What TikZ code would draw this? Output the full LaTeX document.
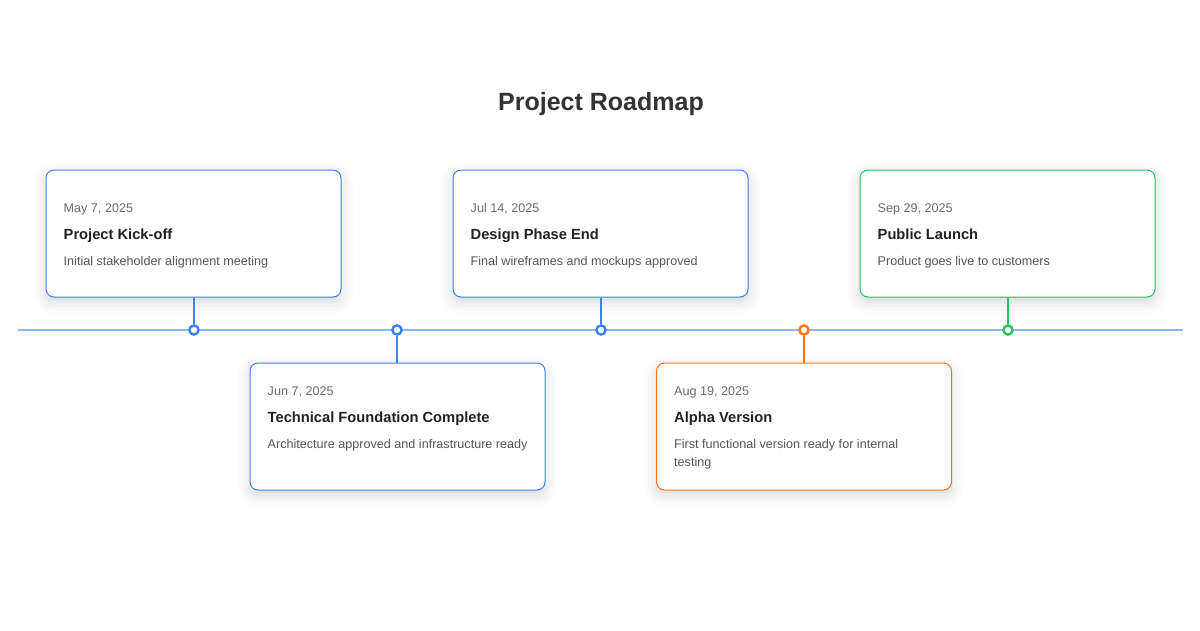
\documentclass[tikz,border=0pt]{standalone}
\usepackage{fontspec}
\setmainfont{Liberation Sans}
\usetikzlibrary{shadows.blur,calc}
\definecolor{cblue}{HTML}{3B82F6}
\definecolor{corange}{HTML}{F97316}
\definecolor{cgreen}{HTML}{22C55E}
\definecolor{cline}{HTML}{93B5F8}
\definecolor{cdate}{HTML}{6B6B6B}
\definecolor{ctitle}{HTML}{222222}
\definecolor{cdesc}{HTML}{555555}
\definecolor{chead}{HTML}{333333}
\tikzset{
  card/.style={draw=#1, line width=1pt, fill=white, rounded corners=8pt,
    minimum width=295pt, minimum height=127pt, inner sep=0pt,
    blur shadow={shadow xshift=0pt, shadow yshift=-5pt, shadow blur radius=12pt, shadow opacity=16}},
  dot/.style={circle, draw=#1, line width=2.4pt, fill=white, minimum size=9.2pt, inner sep=0pt},
  stem/.style={draw=#1, line width=2pt},
  datetxt/.style={anchor=base west, inner sep=0pt, text=cdate, font=\fontsize{12.6}{15}\selectfont},
  titletxt/.style={anchor=base west, inner sep=0pt, text=ctitle, font=\fontsize{14.7}{17}\selectfont\bfseries},
  desctxt/.style={anchor=base west, inner sep=0pt, text=cdesc, font=\fontsize{12.6}{15}\selectfont},
}
\begin{document}
\begin{tikzpicture}[x=1pt,y=-1pt]
\useasboundingbox (0,0) rectangle (1200,630);
\node[text=chead, font=\fontsize{25}{29}\selectfont\bfseries, inner sep=0pt] (head) at (601,104.5) {Project Roadmap};

% cards
\node[card=cblue] (c1) at (193.5,233.5) {};
\node[card=cblue] (c2) at (397.5,426.5) {};
\node[card=cblue] (c3) at (600.5,233.5) {};
\node[card=corange] (c4) at (804,426.5) {};
\node[card=cgreen] (c5) at (1007.5,233.5) {};

% timeline
\coordinate (tl) at (18,330);
\coordinate (tr) at (1183,330);
\draw[cline, line width=2pt] (tl) -- (tr);

% dots
\node[dot=cblue] (d1) at (194,330) {};
\node[dot=cblue] (d2) at (397,330) {};
\node[dot=cblue] (d3) at (601,330) {};
\node[dot=corange] (d4) at (804,330) {};
\node[dot=cgreen] (d5) at (1008,330) {};

% stems
\draw[stem=cblue] (d1.north) -- (d1.north |- c1.south);
\draw[stem=cblue] (d2.south) -- (d2.south |- c2.north);
\draw[stem=cblue] (d3.north) -- (d3.north |- c3.south);
\draw[stem=corange] (d4.south) -- (d4.south |- c4.north);
\draw[stem=cgreen] (d5.north) -- (d5.north |- c5.south);

% card 1
\node[datetxt] (t1a) at ($(c1.north west)+(18,43)$) {May 7, 2025};
\node[titletxt] (t1b) at ($(c1.north west)+(18,70)$) {Project Kick-off};
\node[desctxt] (t1c) at ($(c1.north west)+(18,96)$) {Initial stakeholder alignment meeting};
% card 2
\node[datetxt] (t2a) at ($(c2.north west)+(18,33)$) {Jun 7, 2025};
\node[titletxt] (t2b) at ($(c2.north west)+(18,60)$) {Technical Foundation Complete};
\node[desctxt] (t2c) at ($(c2.north west)+(18,86)$) {Architecture approved and infrastructure ready};
% card 3
\node[datetxt] (t3a) at ($(c3.north west)+(18,43)$) {Jul 14, 2025};
\node[titletxt] (t3b) at ($(c3.north west)+(18,70)$) {Design Phase End};
\node[desctxt] (t3c) at ($(c3.north west)+(18,96)$) {Final wireframes and mockups approved};
% card 4
\node[datetxt] (t4a) at ($(c4.north west)+(18,33)$) {Aug 19, 2025};
\node[titletxt] (t4b) at ($(c4.north west)+(18,60)$) {Alpha Version};
\node[desctxt] (t4c) at ($(c4.north west)+(18,86)$) {First functional version ready for internal};
\node[desctxt] (t4d) at ($(c4.north west)+(18,104)$) {testing};
% card 5
\node[datetxt] (t5a) at ($(c5.north west)+(18,43)$) {Sep 29, 2025};
\node[titletxt] (t5b) at ($(c5.north west)+(18,70)$) {Public Launch};
\node[desctxt] (t5c) at ($(c5.north west)+(18,96)$) {Product goes live to customers};
\end{tikzpicture}
\end{document}
